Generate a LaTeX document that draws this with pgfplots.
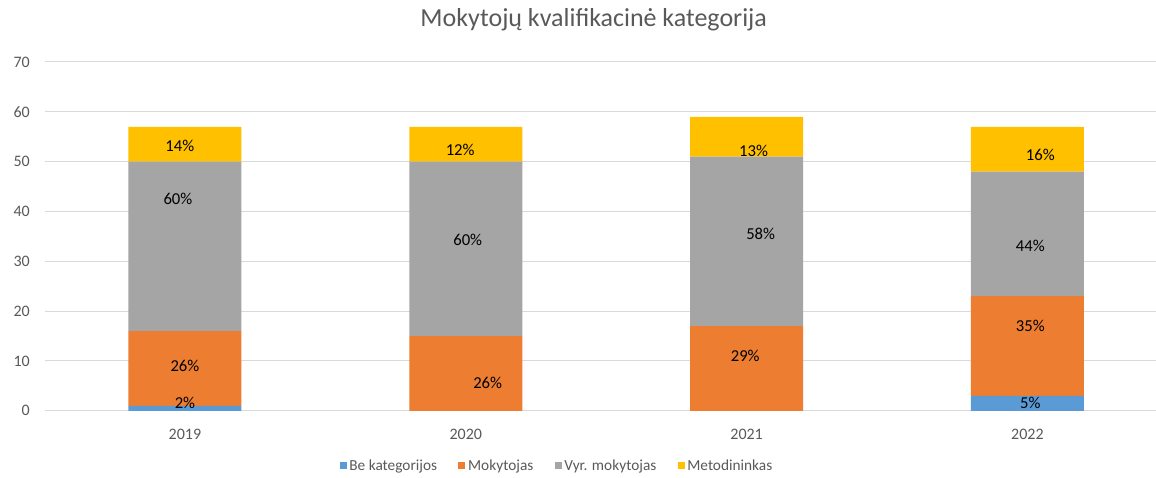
\documentclass[border=0pt]{standalone}
\usepackage{fontspec}
\setmainfont{Carlito}
\usepackage{pgfplots}
\pgfplotsset{compat=1.18}
\definecolor{cBlue}{HTML}{5B9BD5}
\definecolor{cOrange}{HTML}{ED7D31}
\definecolor{cGray}{HTML}{A5A5A5}
\definecolor{cYellow}{HTML}{FFC000}
\definecolor{cGrid}{HTML}{D9D9D9}
\definecolor{cText}{HTML}{595959}
\pgfplotsset{common/.style={
  scale only axis,
  width=833.6pt, height=261.75pt,
  xmin=-0.5, xmax=3.456,
  ymin=0, ymax=70}}
\begin{document}
\begin{tikzpicture}
\begin{axis}[
  name=ax,
  common,
  ybar stacked,
  bar width=84.75pt,
  ytick={0,10,...,70},
  xtick={0,1,2,3},
  xticklabels={2019,2020,2021,2022},
  major tick length=0pt,
  ymajorgrids,
  grid style={cGrid, line width=0.75pt},
  axis x line*=bottom,
  axis y line*=left,
  x axis line style={draw=cGrid, line width=0.75pt, -},
  y axis line style={draw=none},
  tick label style={font=\fontsize{12}{14}\selectfont, text=cText},
  /pgf/number format/assume math mode=true,
  yticklabel style={xshift=-7.5pt},
  xticklabel style={yshift=-10pt},
  title={Mokytojų kvalifikacinė kategorija},
  title style={at={(0.4943,1.0974)}, anchor=center, font=\fontsize{19.5}{22}\selectfont, text=cText},
  legend columns=4,
  legend style={at={(0.4616,-0.1576)}, anchor=center, draw=none, fill=none,
    font=\fontsize{11.5}{13}\selectfont, text=cText,
    /tikz/every even column/.append style={column sep=14pt}},
  legend image code/.code={\fill[#1] (0pt,-2.6pt) rectangle (5.25pt,2.6pt);},
]
\addplot[fill=cBlue, draw=none] coordinates {(0,1) (1,0) (2,0) (3,3)};
\addlegendentry{Be kategorijos}
\addplot[fill=cOrange, draw=none] coordinates {(0,15) (1,15) (2,17) (3,20)};
\addlegendentry{Mokytojas}
\addplot[fill=cGray, draw=none] coordinates {(0,34) (1,35) (2,34) (3,25)};
\addlegendentry{Vyr. mokytojas}
\addplot[fill=cYellow, draw=none] coordinates {(0,7) (1,7) (2,8) (3,9)};
\addlegendentry{Metodininkas}
\end{axis}
\begin{axis}[
  common,
  at={(ax.south west)}, anchor=south west,
  hide axis,
  clip=false,
]
\addplot[only marks, mark=none, point meta=explicit symbolic,
  nodes near coords,
  every node near coord/.append style={anchor=center, font=\fontsize{12.5}{14}\selectfont, text=black}]
  coordinates {
  (-0.018,53.15) [14\%]
  (-0.025,42.5) [60\%]
  (0,9.0) [26\%]
  (0,1.6) [2\%]
  (0.98,52.3) [12\%]
  (1.007,34.3) [60\%]
  (1.078,5.6) [26\%]
  (2.025,52.1) [13\%]
  (2.05,35.5) [58\%]
  (1.995,11.0) [29\%]
  (3.046,51.3) [16\%]
  (3.01,33.1) [44\%]
  (3.01,17.0) [35\%]
  (3.01,1.6) [5\%]
  };
\end{axis}
\path (ax.south west) ++(-33.4pt,-47.25pt) rectangle ++(867pt,355.5pt);
\end{tikzpicture}
\end{document}
